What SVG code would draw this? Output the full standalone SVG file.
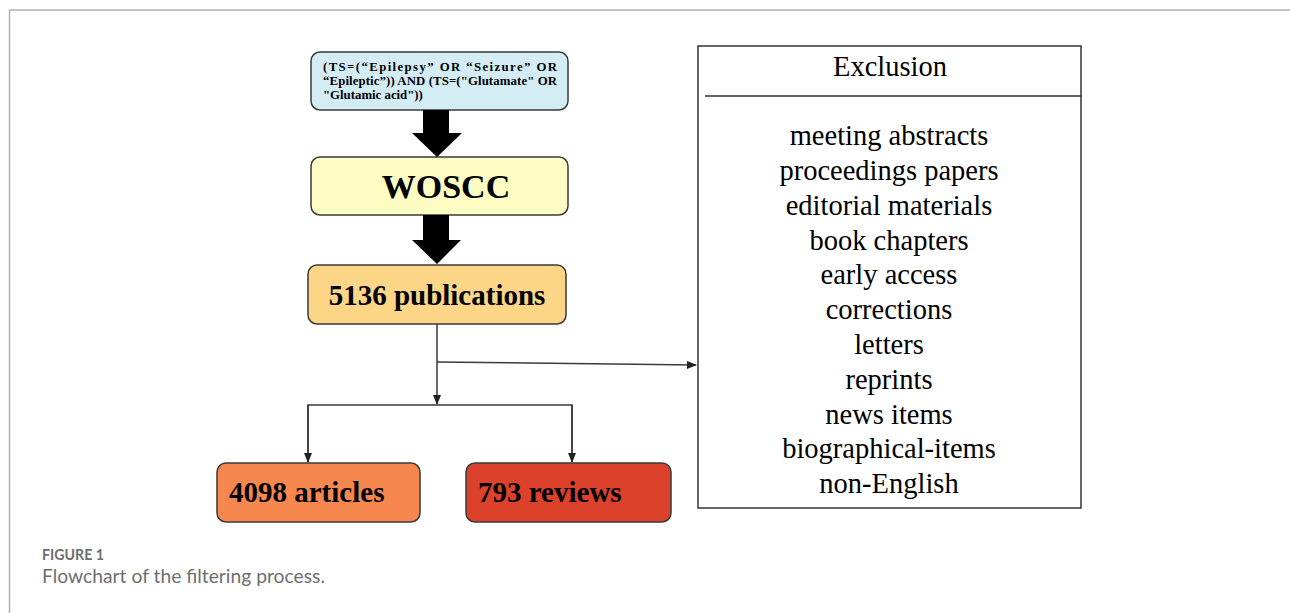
<svg xmlns="http://www.w3.org/2000/svg" width="1290" height="613" viewBox="0 0 1290 613">
<style>
.box{stroke:#3a3a3a;stroke-width:1.5}
.bt{font-family:"Liberation Serif","Times New Roman",serif;font-weight:bold;fill:#000}
.rt{font-family:"Liberation Serif","Times New Roman",serif;font-size:28.5px;fill:#000;text-anchor:middle}
.con{fill:none;stroke:#3a3a3a;stroke-width:1.5}
.big{fill:#000}
.cap{font-family:Lato,"Open Sans",sans-serif;fill:#6e6e6e}
</style>
<defs>
<marker id="ah" markerWidth="10" markerHeight="10" refX="9" refY="5" orient="auto" markerUnits="userSpaceOnUse">
<path d="M0,1 L10,5 L0,9 Z" fill="#222"/>
</marker>
</defs>
<rect width="1290" height="613" fill="#fff"/>
<path d="M9.5,613 V10 H1290" fill="none" stroke="#b0b0b0" stroke-width="1.5"/>

<g id="query">
<rect class="box" x="311" y="52" width="257" height="58" rx="9" fill="#d4edf4"/>
<text class="bt" font-size="12.8" x="323" y="71" textLength="234" lengthAdjust="spacing">(TS=(“Epilepsy” OR “Seizure” OR</text>
<text class="bt" font-size="12.8" x="323" y="85" textLength="234" lengthAdjust="spacing">“Epileptic”)) AND (TS=("Glutamate" OR</text>
<text class="bt" font-size="12.8" x="323" y="99">"Glutamic acid"))</text>
</g>

<g id="woscc">
<rect class="box" x="311" y="157" width="257" height="58" rx="9" fill="#fdfcc2"/>
<text class="bt" font-size="34" x="446" y="198" text-anchor="middle">WOSCC</text>
</g>

<g id="publications">
<rect class="box" x="308" y="265" width="258" height="59" rx="9" fill="#fdd587"/>
<text class="bt" font-size="29" x="437" y="305" text-anchor="middle">5136 publications</text>
</g>

<g id="articles">
<rect class="box" x="217" y="463" width="203" height="59" rx="9" fill="#f6874f"/>
<text class="bt" font-size="29" x="229" y="502">4098 articles</text>
</g>

<g id="reviews">
<rect class="box" x="466" y="463" width="205" height="59" rx="9" fill="#dc422b"/>
<text class="bt" font-size="29" x="478" y="502">793 reviews</text>
</g>

<g id="exclusion">
<rect x="698" y="46" width="383" height="462" fill="#fff" stroke="#333" stroke-width="1.5"/>
<line x1="705" y1="96" x2="1081" y2="96" stroke="#333" stroke-width="1.5"/>
<text class="rt" x="890" y="76">Exclusion</text>
<text class="rt" x="889" y="145">meeting abstracts</text>
<text class="rt" x="889" y="180">proceedings papers</text>
<text class="rt" x="889" y="214.5">editorial materials</text>
<text class="rt" x="889" y="249.5">book chapters</text>
<text class="rt" x="889" y="284">early access</text>
<text class="rt" x="889" y="319">corrections</text>
<text class="rt" x="889" y="354">letters</text>
<text class="rt" x="889" y="388.5">reprints</text>
<text class="rt" x="889" y="423.5">news items</text>
<text class="rt" x="889" y="458">biographical-items</text>
<text class="rt" x="889" y="493">non-English</text>
</g>

<g id="connectors">
<path class="big" d="M423,110 H449 V133 H462 L437,157 L412,133 H423 Z"/>
<path class="big" d="M423,215 H449 V240 H461 L437,264 L412,240 H423 Z"/>
<path class="con" d="M437,324 V404" marker-end="url(#ah)"/>
<path class="con" d="M437,362 L696,365" marker-end="url(#ah)"/>
<path class="con" d="M308,462 V405 H572 V462" />
<path class="con" d="M308,405 V462" marker-end="url(#ah)"/>
<path class="con" d="M572,405 V462" marker-end="url(#ah)"/>
</g>

<g id="caption">
<text class="cap" x="42" y="560" font-size="15" font-weight="bold" textLength="62" lengthAdjust="spacingAndGlyphs">FIGURE 1</text>
<text class="cap" x="42" y="583" font-size="18.5" textLength="283" lengthAdjust="spacingAndGlyphs">Flowchart of the filtering process.</text>
</g>
</svg>
